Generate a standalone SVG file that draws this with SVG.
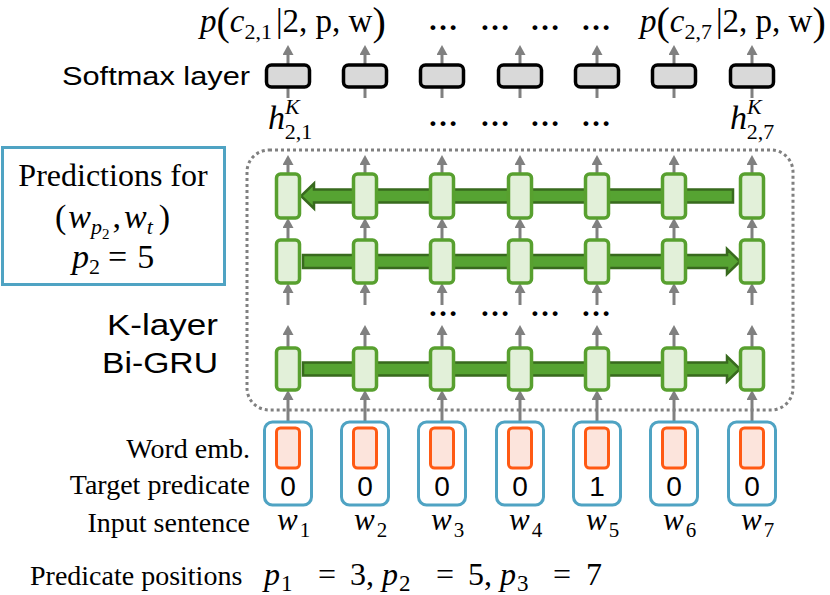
<svg xmlns="http://www.w3.org/2000/svg" width="830" height="595" viewBox="0 0 830 595">
<defs>
<marker id="ah" markerWidth="11" markerHeight="11" refX="2" refY="5.5" orient="auto" markerUnits="userSpaceOnUse">
<path d="M0,0 L10,5.5 L0,11 z" fill="#808080"/>
</marker>
<style>
.ga{stroke:#808080;stroke-width:3;fill:none}
.gam{stroke:#808080;stroke-width:3;fill:none;marker-end:url(#ah)}
.gru{fill:#E2F0D9;stroke:#58A02F;stroke-width:3.5}
.sm{fill:#D9D9D9;stroke:#000;stroke-width:3.5}
.inp{fill:#fff;stroke:#4FA3C3;stroke-width:3}
.emb{fill:#FCE4DC;stroke:#FF5A14;stroke-width:3}
.garr{fill:#56A332;stroke:#386A1E;stroke-width:2.5}
.serif{font-family:"Liberation Serif","Times New Roman",serif;fill:#000}
.sans{font-family:"Liberation Sans",Arial,sans-serif;fill:#000}
.it{font-style:italic}
.dig{font-family:"Liberation Sans",Arial,sans-serif;font-size:28px;text-anchor:middle}
.dots{font-family:"Liberation Serif",serif;font-size:30px;text-anchor:middle;font-weight:bold}
</style>
</defs>

<g id="connectors">
<g id="col-arrows">
<path class="gam" d="M288,422V398"/><path class="gam" d="M288,348V333"/><path class="gam" d="M288,305V291"/><path class="gam" d="M288,240V226"/><path class="gam" d="M288,174V163"/><path class="gam" d="M288,65V53"/><path class="ga" d="M288,98V87"/>
<path class="gam" d="M365,422V398"/><path class="gam" d="M365,348V333"/><path class="gam" d="M365,305V291"/><path class="gam" d="M365,240V226"/><path class="gam" d="M365,174V163"/><path class="gam" d="M365,65V53"/><path class="ga" d="M365,98V87"/>
<path class="gam" d="M442,422V398"/><path class="gam" d="M442,348V333"/><path class="gam" d="M442,305V291"/><path class="gam" d="M442,240V226"/><path class="gam" d="M442,174V163"/><path class="gam" d="M442,65V53"/><path class="ga" d="M442,98V87"/>
<path class="gam" d="M520,422V398"/><path class="gam" d="M520,348V333"/><path class="gam" d="M520,305V291"/><path class="gam" d="M520,240V226"/><path class="gam" d="M520,174V163"/><path class="gam" d="M520,65V53"/><path class="ga" d="M520,98V87"/>
<path class="gam" d="M597,422V398"/><path class="gam" d="M597,348V333"/><path class="gam" d="M597,305V291"/><path class="gam" d="M597,240V226"/><path class="gam" d="M597,174V163"/><path class="gam" d="M597,65V53"/><path class="ga" d="M597,98V87"/>
<path class="gam" d="M674,422V398"/><path class="gam" d="M674,348V333"/><path class="gam" d="M674,305V291"/><path class="gam" d="M674,240V226"/><path class="gam" d="M674,174V163"/><path class="gam" d="M674,65V53"/><path class="ga" d="M674,98V87"/>
<path class="gam" d="M752,422V398"/><path class="gam" d="M752,348V333"/><path class="gam" d="M752,305V291"/><path class="gam" d="M752,240V226"/><path class="gam" d="M752,174V163"/><path class="gam" d="M752,65V53"/><path class="ga" d="M752,98V87"/>
</g>
<g id="gru-arrows">
<polygon class="garr" points="733,189.5 314,189.5 314,183.5 301,196 314,208.5 314,202.5 733,202.5"/>
<polygon class="garr" points="303,255 727,255 727,249 740,261.5 727,274 727,268 303,268"/>
<polygon class="garr" points="303,362.5 727,362.5 727,356.5 740,369 727,381.5 727,375.5 303,375.5"/>
</g>
</g>

<g id="bigru-frame">
<rect x="247" y="150" width="546" height="260" rx="22" fill="none" stroke="#808080" stroke-width="3" stroke-dasharray="3 3"/>
</g>

<g id="softmax-layer">
<rect class="sm" x="266.5" y="65" width="43" height="22" rx="5"/>
<rect class="sm" x="343.5" y="65" width="43" height="22" rx="5"/>
<rect class="sm" x="420.5" y="65" width="43" height="22" rx="5"/>
<rect class="sm" x="498.5" y="65" width="43" height="22" rx="5"/>
<rect class="sm" x="575.5" y="65" width="43" height="22" rx="5"/>
<rect class="sm" x="652.5" y="65" width="43" height="22" rx="5"/>
<rect class="sm" x="730.5" y="65" width="43" height="22" rx="5"/>
<text class="sans" x="250" y="85" font-size="26" text-anchor="end" textLength="188" lengthAdjust="spacingAndGlyphs">Softmax layer</text>
</g>

<g id="gru-row1">
<rect class="gru" x="276.5" y="174" width="23" height="44" rx="4"/>
<rect class="gru" x="353.5" y="174" width="23" height="44" rx="4"/>
<rect class="gru" x="430.5" y="174" width="23" height="44" rx="4"/>
<rect class="gru" x="508.5" y="174" width="23" height="44" rx="4"/>
<rect class="gru" x="585.5" y="174" width="23" height="44" rx="4"/>
<rect class="gru" x="662.5" y="174" width="23" height="44" rx="4"/>
<rect class="gru" x="740.5" y="174" width="23" height="44" rx="4"/>
</g>
<g id="gru-row2">
<rect class="gru" x="276.5" y="240" width="23" height="43" rx="4"/>
<rect class="gru" x="353.5" y="240" width="23" height="43" rx="4"/>
<rect class="gru" x="430.5" y="240" width="23" height="43" rx="4"/>
<rect class="gru" x="508.5" y="240" width="23" height="43" rx="4"/>
<rect class="gru" x="585.5" y="240" width="23" height="43" rx="4"/>
<rect class="gru" x="662.5" y="240" width="23" height="43" rx="4"/>
<rect class="gru" x="740.5" y="240" width="23" height="43" rx="4"/>
</g>
<g id="gru-row3">
<rect class="gru" x="276.5" y="348" width="23" height="42" rx="4"/>
<rect class="gru" x="353.5" y="348" width="23" height="42" rx="4"/>
<rect class="gru" x="430.5" y="348" width="23" height="42" rx="4"/>
<rect class="gru" x="508.5" y="348" width="23" height="42" rx="4"/>
<rect class="gru" x="585.5" y="348" width="23" height="42" rx="4"/>
<rect class="gru" x="662.5" y="348" width="23" height="42" rx="4"/>
<rect class="gru" x="740.5" y="348" width="23" height="42" rx="4"/>
</g>

<g id="inputs">
<rect class="inp" x="264.5" y="422" width="47" height="83" rx="8"/>
<rect class="inp" x="341.5" y="422" width="47" height="83" rx="8"/>
<rect class="inp" x="418.5" y="422" width="47" height="83" rx="8"/>
<rect class="inp" x="496.5" y="422" width="47" height="83" rx="8"/>
<rect class="inp" x="573.5" y="422" width="47" height="83" rx="8"/>
<rect class="inp" x="650.5" y="422" width="47" height="83" rx="8"/>
<rect class="inp" x="728.5" y="422" width="47" height="83" rx="8"/>
<rect class="emb" x="276.5" y="428" width="23" height="40" rx="4"/>
<rect class="emb" x="353.5" y="428" width="23" height="40" rx="4"/>
<rect class="emb" x="430.5" y="428" width="23" height="40" rx="4"/>
<rect class="emb" x="508.5" y="428" width="23" height="40" rx="4"/>
<rect class="emb" x="585.5" y="428" width="23" height="40" rx="4"/>
<rect class="emb" x="662.5" y="428" width="23" height="40" rx="4"/>
<rect class="emb" x="740.5" y="428" width="23" height="40" rx="4"/>
<text class="dig" x="288" y="496">0</text>
<text class="dig" x="365" y="496">0</text>
<text class="dig" x="442" y="496">0</text>
<text class="dig" x="520" y="496">0</text>
<text class="dig" x="597" y="496">1</text>
<text class="dig" x="674" y="496">0</text>
<text class="dig" x="752" y="496">0</text>
<g class="serif" font-size="31">
<text x="277" y="530"><tspan class="it">w</tspan><tspan font-size="21" dx="2" dy="7">1</tspan></text>
<text x="354" y="530"><tspan class="it">w</tspan><tspan font-size="21" dx="2" dy="7">2</tspan></text>
<text x="431" y="530"><tspan class="it">w</tspan><tspan font-size="21" dx="2" dy="7">3</tspan></text>
<text x="509" y="530"><tspan class="it">w</tspan><tspan font-size="21" dx="2" dy="7">4</tspan></text>
<text x="586" y="530"><tspan class="it">w</tspan><tspan font-size="21" dx="2" dy="7">5</tspan></text>
<text x="663" y="530"><tspan class="it">w</tspan><tspan font-size="21" dx="2" dy="7">6</tspan></text>
<text x="741" y="530"><tspan class="it">w</tspan><tspan font-size="21" dx="2" dy="7">7</tspan></text>
</g>
</g>

<g id="row-labels" class="serif" font-size="28" text-anchor="end">
<text x="250" y="458">Word emb.</text>
<text x="250" y="494">Target predicate</text>
<text x="250" y="532">Input sentence</text>
</g>

<g id="predicate-positions" class="serif" font-size="28">
<text x="30" y="585">Predicate positions</text>
<text x="264" y="585" font-size="32"><tspan class="it">p</tspan><tspan font-size="23" dx="1" dy="6">1</tspan><tspan x="318" dy="-6">=</tspan><tspan x="350">3,</tspan><tspan class="it" x="382">p</tspan><tspan font-size="23" dx="1" dy="6">2</tspan><tspan x="436" dy="-6">=</tspan><tspan x="468">5,</tspan><tspan class="it" x="500">p</tspan><tspan font-size="23" dx="1" dy="6">3</tspan><tspan x="553" dy="-6">=</tspan><tspan x="586">7</tspan></text>
</g>

<g id="top-outputs" class="serif" font-size="33">
<text x="200" y="32"><tspan class="it">p</tspan><tspan font-size="40" dy="3">(</tspan><tspan class="it" dy="-3">c</tspan><tspan font-size="22" dy="7">2,1</tspan><tspan dx="4" dy="-7">|2, p, w</tspan><tspan font-size="40" dy="3">)</tspan></text>
<text x="640" y="32"><tspan class="it">p</tspan><tspan font-size="40" dy="3">(</tspan><tspan class="it" dy="-3">c</tspan><tspan font-size="22" dy="7">2,7</tspan><tspan dx="4" dy="-7">|2, p, w</tspan><tspan font-size="40" dy="3">)</tspan></text>
<text class="dots" x="443" y="30">…</text>
<text class="dots" x="495" y="30">…</text>
<text class="dots" x="545" y="30">…</text>
<text class="dots" x="596" y="30">…</text>
</g>

<g id="h-labels" class="serif" font-size="34">
<text x="268" y="129"><tspan class="it">h</tspan><tspan class="it" font-size="22" dy="-15">K</tspan><tspan font-size="22" dx="-15" dy="25">2,1</tspan></text>
<text x="730" y="129"><tspan class="it">h</tspan><tspan class="it" font-size="22" dy="-15">K</tspan><tspan font-size="22" dx="-15" dy="25">2,7</tspan></text>
<text class="dots" x="443" y="126">…</text>
<text class="dots" x="495" y="126">…</text>
<text class="dots" x="545" y="126">…</text>
<text class="dots" x="596" y="126">…</text>
</g>

<g id="gru-dots">
<text class="dots" x="443" y="316">…</text>
<text class="dots" x="495" y="316">…</text>
<text class="dots" x="545" y="316">…</text>
<text class="dots" x="596" y="316">…</text>
</g>

<g id="predictions-box">
<rect x="2.5" y="147.5" width="222" height="137" fill="#fff" stroke="#4FA3C3" stroke-width="3"/>
<text class="serif" x="113" y="186" font-size="32" text-anchor="middle">Predictions for</text>
<text class="serif" x="55" y="228" font-size="34">(<tspan class="it" dx="2">w</tspan><tspan class="it" font-size="22" dy="6">p</tspan><tspan font-size="15" dy="5">2</tspan><tspan dx="3" dy="-11">,</tspan><tspan class="it" dx="3">w</tspan><tspan class="it" font-size="22" dy="6">t</tspan><tspan dx="6" dy="-6">)</tspan></text>
<text class="serif" x="72" y="268" font-size="34"><tspan class="it">p</tspan><tspan font-size="22" dy="6">2</tspan><tspan dx="8" dy="-6">=</tspan><tspan dx="10">5</tspan></text>
</g>

<g id="bigru-label" class="sans" font-size="30" text-anchor="end">
<text x="218" y="335" textLength="111" lengthAdjust="spacingAndGlyphs">K-layer</text>
<text x="218" y="373" textLength="116" lengthAdjust="spacingAndGlyphs">Bi-GRU</text>
</g>
</svg>
